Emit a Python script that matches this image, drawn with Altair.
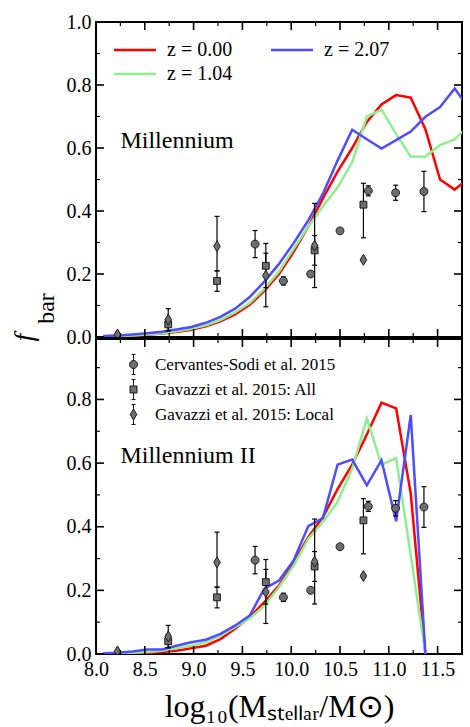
import altair as alt
import pandas as pd

# ------------------------------------------------------------------ data
mass_grid = [8.075, 8.225, 8.375, 8.525, 8.675, 8.825, 8.975, 9.125, 9.275, 9.425,
             9.575, 9.725, 9.875, 10.025, 10.175, 10.325, 10.475, 10.625, 10.775,
             10.925, 11.075, 11.225, 11.375, 11.525, 11.675, 11.825]

# Millennium
ms_z000 = [0.001, 0.002, 0.004, 0.007, 0.011, 0.016, 0.023, 0.034, 0.050, 0.072,
           0.102, 0.146, 0.200, 0.270, 0.350, 0.440, 0.525, 0.600, 0.683, 0.738,
           0.768, 0.760, 0.660, 0.500, 0.468, 0.505]
ms_z104 = [0.002, 0.003, 0.005, 0.008, 0.012, 0.018, 0.026, 0.037, 0.054, 0.078,
           0.108, 0.153, 0.208, 0.280, 0.350, 0.415, 0.475, 0.555, 0.700, 0.722,
           0.645, 0.572, 0.573, 0.609, 0.627, 0.675]
ms_z207 = [0.003, 0.005, 0.008, 0.012, 0.017, 0.024, 0.032, 0.045, 0.064, 0.090,
           0.127, 0.176, 0.232, 0.298, 0.370, 0.455, 0.560, 0.658, 0.628, 0.598,
           0.625, 0.652, 0.699, 0.730, 0.789, 0.725]

# Millennium II (ends at 11.375)
ms2_z000 = [0.000, 0.001, 0.002, 0.003, 0.006, 0.010, 0.018, 0.026, 0.047, 0.079,
            0.116, 0.163, 0.215, 0.289, 0.367, 0.430, 0.518, 0.595, 0.690, 0.790,
            0.772, 0.504, 0.000]
ms2_z104 = [0.000, 0.002, 0.004, 0.006, 0.010, 0.018, 0.026, 0.037, 0.058, 0.084,
            0.112, 0.152, 0.210, 0.278, 0.362, 0.415, 0.478, 0.583, 0.740, 0.595,
            0.616, 0.310, 0.000]
ms2_z207 = [0.002, 0.004, 0.008, 0.014, 0.014, 0.026, 0.037, 0.045, 0.063, 0.089,
            0.121, 0.205, 0.231, 0.294, 0.402, 0.427, 0.595, 0.611, 0.530, 0.609,
            0.417, 0.751, 0.000]

z_labels = ["z = 0.00", "z = 1.04", "z = 2.07"]
z_colors = ["#ff0000", "#90ee90", "#4d4dff"]

# Observations
cs_x = [9.63, 9.92, 10.20, 10.50, 10.79, 11.07, 11.36]
cs_f = [0.295, 0.178, 0.200, 0.337, 0.464, 0.458, 0.462]
cs_lo = [0.252, 0.165, 0.194, 0.331, 0.448, 0.434, 0.398]
cs_hi = [0.338, 0.191, 0.206, 0.343, 0.480, 0.482, 0.526]

ga_x = [8.74, 9.24, 9.74, 10.24, 10.74]
ga_f = [0.040, 0.178, 0.226, 0.275, 0.420]
ga_lo = [0.020, 0.145, 0.157, 0.228, 0.315]
ga_hi = [0.060, 0.210, 0.297, 0.322, 0.488]

gl_x = [8.22, 8.74, 9.24, 9.74, 10.24, 10.74]
gl_f = [0.008, 0.055, 0.288, 0.195, 0.290, 0.245]
gl_lo = [0.008, 0.020, 0.210, 0.096, 0.157, 0.240]
gl_hi = [0.008, 0.090, 0.383, 0.266, 0.424, 0.250]

src_labels = ["Cervantes-Sodi et al. 2015", "Gavazzi et al. 2015: All",
              "Gavazzi et al. 2015: Local"]

panel_names = ["Millennium", "Millennium II"]
panel_label_x = [8.25]
panel_label_y = [0.60]

x_major = [8.0, 8.5, 9.0, 9.5, 10.0, 10.5, 11.0, 11.5]
x_minor = [8.25, 8.75, 9.25, 9.75, 10.25, 10.75, 11.25]
y_major_top = [0.0, 0.2, 0.4, 0.6, 0.8, 1.0]
y_major_bot = [0.0, 0.2, 0.4, 0.6, 0.8]
y_minor = [0.1, 0.3, 0.5, 0.7, 0.9]

# ------------------------------------------------------------------ tables
def line_table(series):
    rows = []
    for lab, vals in series:
        for m, f in zip(mass_grid, vals):
            rows.append({"mass": m, "fbar": f, "z": lab})
    return pd.DataFrame(rows)

top_lines = line_table([("z = 0.00", ms_z000), ("z = 1.04", ms_z104), ("z = 2.07", ms_z207)])
bot_lines = line_table([("z = 0.00", ms2_z000), ("z = 1.04", ms2_z104), ("z = 2.07", ms2_z207)])

obs_rows = []
for src, xs_, fs_, los_, his_ in [(src_labels[0], cs_x, cs_f, cs_lo, cs_hi),
                                   (src_labels[1], ga_x, ga_f, ga_lo, ga_hi),
                                   (src_labels[2], gl_x, gl_f, gl_lo, gl_hi)]:
    for a, b, c, d in zip(xs_, fs_, los_, his_):
        obs_rows.append({"mass": a, "fbar": b, "lo": c, "hi": d, "source": src})
obs = pd.DataFrame(obs_rows)

# ------------------------------------------------------------------ style
FONT = "Liberation Serif"
X_DOMAIN = [8.0, 11.75]
MARKER_PATHS = [
    "M-0.72,0A0.72,0.72,0,1,1,0.72,0A0.72,0.72,0,1,1,-0.72,0Z",
    "M-0.62,-0.62L0.62,-0.62L0.62,0.62L-0.62,0.62Z",
    "M0,-1L0.6,0L0,1L-0.6,0Z",
]
LEGEND_PATHS = [
    "M0,-1L0,-0.4M0,0.4L0,1M-0.2,-1L0.2,-1M-0.2,1L0.2,1"
    "M-0.4,0A0.4,0.4,0,1,1,0.4,0A0.4,0.4,0,1,1,-0.4,0Z",
    "M0,-1L0,-0.35M0,0.35L0,1M-0.2,-1L0.2,-1M-0.2,1L0.2,1"
    "M-0.35,-0.35L0.35,-0.35L0.35,0.35L-0.35,0.35Z",
    "M0,-1L0,-0.55M0,0.55L0,1M-0.2,-1L0.2,-1M-0.2,1L0.2,1"
    "M0,-0.55L0.33,0L0,0.55L-0.33,0Z",
]
MARKER_FILL = "#6e6e6e"
MARKER_EDGE = "#1a1a1a"
W, H = 366, 315
MAJOR_LEN, MINOR_LEN = 8, 4


def ax(orient, values, **kw):
    return alt.Axis(orient=orient, values=values, ticks=False, domain=False, grid=False,
                    format=".1f", labelFont=FONT, labelFontSize=20, labelPadding=5,
                    labelColor="black", labelFlush=False, labelOverlap=False, **kw)


def tick_marks(values, side, length, width, xs, ys, ymax):
    """Frame ticks: a tick mark centred on the frame edge, clipped to the plot,
    so only its inward half shows."""
    df = pd.DataFrame({"v": values})
    if side in ("bottom", "top"):
        edge = 0.0 if side == "bottom" else ymax
        return alt.Chart(df).mark_tick(orient="vertical", size=2 * length, thickness=width,
                                       color="black", opacity=1, clip=True).encode(
            x=alt.X("v:Q", scale=xs),
            y=alt.Y(datum=edge, scale=ys, type="quantitative"),
        )
    edge = X_DOMAIN[0] if side == "left" else X_DOMAIN[1]
    return alt.Chart(df).mark_tick(orient="horizontal", size=2 * length, thickness=width,
                                   color="black", opacity=1, clip=True).encode(
        y=alt.Y("v:Q", scale=ys),
        x=alt.X(datum=edge, scale=xs, type="quantitative"),
    )


def panel(line_df, ymax, y_major, show_x, name, top):
    xs = alt.Scale(domain=X_DOMAIN, nice=False, zero=False)
    ys = alt.Scale(domain=[0, ymax], nice=False, zero=False)

    if top:
        color_legend = alt.Legend(title=None, orient="none", legendX=15, legendY=18,
                                  columns=2, columnPadding=33, rowPadding=4,
                                  symbolType="M-1,0L5,0", symbolSize=196,
                                  symbolStrokeWidth=2.5, labelFont=FONT,
                                  labelFontSize=20, labelOffset=36,
                                  labelColor="black", padding=0, labelLimit=0)
        y_title = dict(title="f", titleFont=FONT, titleFontStyle="italic",
                       titleFontSize=28, titleAngle=270, titleX=-64, titleY=315,
                       titleAlign="center", titleBaseline="alphabetic",
                       titleColor="black", titleFontWeight="normal")
        x_axis = ax("bottom", x_major, labels=False, title=None)
    else:
        color_legend = None
        y_title = dict(title="bar", titleFont=FONT, titleFontSize=24,
                       titleAngle=270, titleX=-43, titleY=-31,
                       titleAlign="center", titleBaseline="alphabetic",
                       titleColor="black", titleFontWeight="normal")
        x_axis = ax("bottom", x_major, labels=True,
                    title="log\u2081\u2080(M\u209b\u209c\u2091\u2097\u2097\u2090\u1d63/M\u2299)",
                    titleFont=FONT, titleFontSize=32, titleColor="black",
                    titleFontWeight="normal", titlePadding=12)

    ticks = []
    for side in ("bottom", "top"):
        ticks.append(tick_marks(x_major, side, MAJOR_LEN, 1.6, xs, ys, ymax))
        ticks.append(tick_marks(x_minor, side, MINOR_LEN, 1.2, xs, ys, ymax))
    for side in ("left", "right"):
        ticks.append(tick_marks(y_major, side, MAJOR_LEN, 1.6, xs, ys, ymax))
        ticks.append(tick_marks(y_minor, side, MINOR_LEN, 1.2, xs, ys, ymax))

    lines = alt.Chart(line_df).mark_line(clip=True, strokeWidth=2.5).encode(
        x=alt.X("mass:Q", scale=xs, axis=x_axis),
        y=alt.Y("fbar:Q", scale=ys, axis=ax("left", y_major, labels=True, **y_title)),
        color=alt.Color("z:N", scale=alt.Scale(domain=z_labels, range=z_colors),
                        legend=color_legend),
    )

    rules = alt.Chart(obs).mark_rule(clip=True, color="black", strokeWidth=1.2).encode(
        x=alt.X("mass:Q", scale=xs),
        y=alt.Y("lo:Q", scale=ys),
        y2="hi:Q",
    )

    caps = alt.Chart(obs).transform_fold(["lo", "hi"], as_=["end", "yv"]).mark_tick(
        orient="horizontal", size=5, thickness=1.2, color="black", opacity=1, clip=True
    ).encode(
        x=alt.X("mass:Q", scale=xs),
        y=alt.Y("yv:Q", scale=ys),
    )

    pts = alt.Chart(obs).mark_point(filled=True, opacity=1, size=121, clip=True,
                                    strokeWidth=1).encode(
        x=alt.X("mass:Q", scale=xs),
        y=alt.Y("fbar:Q", scale=ys),
        shape=alt.Shape("source:N", scale=alt.Scale(domain=src_labels, range=MARKER_PATHS),
                        legend=None),
        fill=alt.value(MARKER_FILL),
        stroke=alt.value(MARKER_EDGE),
    )

    lab_df = pd.DataFrame({"tx": panel_label_x, "ty": panel_label_y, "t": [name]})
    text = alt.Chart(lab_df).mark_text(align="left", baseline="alphabetic", font=FONT,
                                       fontSize=24, color="black").encode(
        x=alt.X("tx:Q", scale=xs),
        y=alt.Y("ty:Q", scale=ys),
        text="t:N",
    )

    layers = [lines, rules, caps, pts, text] + ticks

    if not top:
        leg = alt.Chart(obs).transform_filter("false").transform_calculate(
            entry="datum.source"
        ).mark_point(filled=True, opacity=1, size=400, strokeWidth=1).encode(
            x=alt.X("mass:Q", scale=xs),
            y=alt.Y("fbar:Q", scale=ys),
            fill=alt.value(MARKER_FILL),
            stroke=alt.value(MARKER_EDGE),
            shape=alt.Shape("entry:N", scale=alt.Scale(domain=src_labels, range=LEGEND_PATHS),
                            legend=alt.Legend(title=None, orient="none", legendX=27,
                                              legendY=15, symbolSize=400, rowPadding=0,
                                              symbolStrokeWidth=1,
                                              labelFont=FONT, labelFontSize=17,
                                              labelOffset=11, labelColor="black",
                                              padding=0, labelLimit=0)),
        )
        layers.append(leg)

    return alt.layer(*layers).resolve_scale(shape="independent").properties(
        width=W, height=H)


top = panel(top_lines, 1.0, y_major_top, False, panel_names[0], True)
bottom = panel(bot_lines, 0.99, y_major_bot, True, panel_names[1], False)

chart = alt.vconcat(top, bottom, spacing=2, bounds="flush").resolve_scale(
    x="independent", y="independent", color="independent", shape="independent"
).resolve_axis(x="independent", y="independent").properties(
    padding={"left": 9, "top": 11, "right": 6, "bottom": 5},
    background="white",
).configure_view(stroke="black", strokeWidth=2)

chart.save("out.html", embed_options={"renderer": "svg", "actions": False})
